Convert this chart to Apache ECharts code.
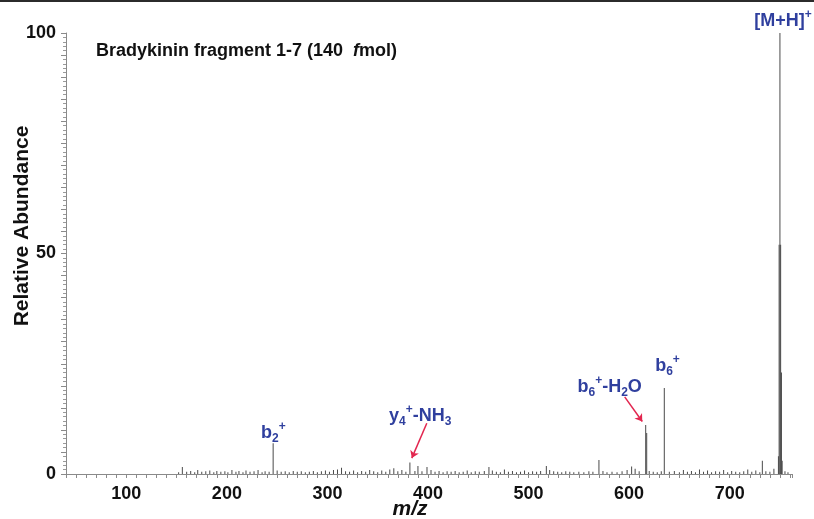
<!DOCTYPE html>
<html>
<head>
<meta charset="utf-8">
<script src="https://cdn.jsdelivr.net/npm/echarts@6/dist/echarts.min.js"></script>
<style>
  html, body { margin: 0; padding: 0; background: #fff; }
  #chart { width: 814px; height: 519px; }
</style>
</head>
<body>
<div id="chart"></div>
<script>
// labelled / prominent peaks: [m/z, relative abundance]
const majorPeaks = [
  [155.7, 1.6], [246, 7.0], [382, 2.6], [390, 1.8], [399, 1.6],
  [460.6, 1.6], [517.7, 1.8], [570, 3.2], [602.5, 1.7],
  [616.5, 11.1], [617.5, 9.3], [635, 19.5], [732.5, 3.0],
  [748.5, 4], [749.2, 52], [750, 100], [750.7, 52], [751.5, 23], [752.2, 3]
];
// baseline noise
const noisePeaks = [
  [152,0.4],[160,0.5],[164,0.7],[168,0.4],[171,0.9],[175,0.5],[179,0.6],[183,0.8],[187,0.4],[190,0.7],
  [194,0.5],[198,0.6],[201,0.4],[205,0.9],[209,0.5],[212,0.7],[216,0.4],[219,0.8],[223,0.5],[227,0.6],
  [231,0.9],[235,0.4],[238,0.6],[242,0.5],[250,0.8],[254,0.5],[258,0.6],[262,0.4],[266,0.7],[270,0.5],
  [274,0.6],[278,0.4],[282,0.5],[286,0.7],[290,0.4],[294,0.6],[298,0.8],[302,0.5],[306,0.9],[310,1.0],
  [314,1.4],[318,0.6],[322,0.5],[326,0.8],[330,0.4],[334,0.7],[338,0.5],[342,0.9],[346,0.6],[350,0.4],
  [354,0.8],[358,0.5],[362,1.0],[366,1.3],[370,0.6],[374,0.9],[378,0.5],[387,0.7],[394,0.6],[403,0.9],
  [407,0.5],[411,0.7],[415,0.4],[419,0.6],[423,0.5],[427,0.7],[431,0.4],[435,0.5],[439,0.8],[443,0.4],
  [447,0.6],[451,0.5],[456,0.7],[464,0.8],[468,0.5],[472,0.4],[476,1.0],[480,0.5],[484,0.7],[488,0.4],
  [492,0.5],[496,0.8],[500,0.4],[504,0.6],[508,0.5],[512,0.7],[521,0.9],[525,0.6],[529,0.5],[533,0.4],
  [537,0.6],[541,0.5],[545,0.4],[550,0.5],[555,0.4],[560,0.6],[564,0.5],[574,0.7],[578,0.4],[583,0.5],
  [588,0.4],[593,0.6],[598,0.9],[606,1.2],[610,0.6],[620,0.7],[624,0.5],[628,0.4],[632,0.6],[640,0.5],
  [645,0.7],[650,0.4],[654,0.9],[658,0.5],[662,0.7],[666,0.4],[670,1.0],[674,0.5],[678,0.8],[682,0.4],
  [686,0.6],[690,0.5],[694,0.9],[698,0.4],[702,0.7],[706,0.5],[710,0.4],[714,0.6],[718,1.0],[722,0.5],
  [726,0.8],[730,0.4],[736,0.6],[740,0.5],[744,1.2],[755,0.6],[758,0.4]
];
// peak annotations: rich text, anchor [m/z, abundance]
const annotations = [
  { text: '[M+H]{sup|+}', coord: [750, 100], offset: [3, -12] },
  { text: 'b{sub|6}{sup|+}', coord: [638.2, 24.5], offset: [0, 0] },
  { text: 'b{sub|6}{sup|+}-H{sub|2}O', coord: [580.7, 19.7], offset: [0, 0] },
  { text: 'y{sub|4}{sup|+}-NH{sub|3}', coord: [392.2, 13.2], offset: [0, 0] },
  { text: 'b{sub|2}{sup|+}', coord: [246.3, 9.3], offset: [0, 0] }
];
// arrows from label to peak
const arrows = [
  [[595.6, 17.5], [613.1, 11.9]],
  [[398.8, 11.5], [383.9, 3.6]]
];
const xTickLabels = [100, 200, 300, 400, 500, 600, 700];
const yTickLabels = [0, 50, 100];

const allPeaks = noisePeaks.concat(majorPeaks);
const FONT = "'Liberation Sans', Arial, sans-serif";
const BLUE = '#2f3f9e';

let chart = echarts.init(document.getElementById('chart'));
chart.setOption({
  animation: false,
  backgroundColor: '#fff',
  textStyle: { fontFamily: FONT },
  title: {
    text: 'Bradykinin fragment 1-7 (140  {i|f}mol)',
    left: 91,
    top: 37,
    textStyle: {
      fontFamily: FONT, fontSize: 18, fontWeight: 'bold', color: '#111',
      rich: { i: { fontFamily: FONT, fontSize: 18, fontWeight: 'bold', fontStyle: 'italic', color: '#111' } }
    }
  },
  grid: { left: 66, right: 22, top: 33, bottom: 45 },
  xAxis: {
    type: 'value',
    min: 40,
    max: 762,
    interval: 10,
    axisLine: { lineStyle: { color: '#8a8a8a', width: 1 } },
    axisTick: { length: 4, lineStyle: { color: '#8a8a8a' } },
    splitLine: { show: false },
    axisLabel: {
      margin: 11,
      fontFamily: FONT, fontSize: 18, fontWeight: 'bold', color: '#111',
      formatter: v => xTickLabels.indexOf(v) >= 0 ? String(v) : ''
    }
  },
  yAxis: {
    type: 'value',
    min: 0,
    max: 100,
    interval: 5,
    axisLine: { show: true, lineStyle: { color: '#8a8a8a', width: 1 } },
    axisTick: { length: 5, lineStyle: { color: '#8a8a8a' } },
    minorTick: { show: true, splitNumber: 5, length: 3, lineStyle: { color: '#9a9a9a' } },
    splitLine: { show: false },
    axisLabel: {
      margin: 10,
      fontFamily: FONT, fontSize: 18, fontWeight: 'bold', color: '#111',
      formatter: v => yTickLabels.indexOf(v) >= 0 ? String(v) : ''
    }
  },
  graphic: [
    { type: 'rect', left: 0, top: 0, shape: { width: 814, height: 2 }, style: { fill: '#2b2b2b' } },
    {
      type: 'text', x: 22, y: 226, rotation: Math.PI / 2,
      style: { text: 'Relative Abundance', font: "bold 21px 'Liberation Sans', Arial", fill: '#111', align: 'center', verticalAlign: 'middle' }
    },
    {
      type: 'text', x: 410, y: 509,
      style: { text: 'm/z', font: "italic bold 21px 'Liberation Sans', Arial", fill: '#111', align: 'center', verticalAlign: 'middle' }
    }
  ],
  series: [{
    type: 'bar',
    barWidth: 1,
    clip: false,
    itemStyle: { color: '#4a4a4a' },
    data: allPeaks,
    markPoint: {
      symbol: 'circle',
      symbolSize: 0,
      silent: true,
      label: {
        show: true,
        position: 'inside',
        color: BLUE,
        fontFamily: FONT, fontSize: 18, fontWeight: 'bold', lineHeight: 24,
        rich: {
          sup: { fontFamily: FONT, fontSize: 12, fontWeight: 'bold', color: BLUE, verticalAlign: 'top', lineHeight: 13 },
          sub: { fontFamily: FONT, fontSize: 12, fontWeight: 'bold', color: BLUE, verticalAlign: 'bottom', lineHeight: 13 }
        }
      },
      data: annotations.map(a => ({
        coord: a.coord,
        label: { formatter: a.text, offset: a.offset }
      }))
    },
    markLine: {
      silent: true,
      symbol: ['none', 'arrow'],
      symbolSize: 7,
      label: { show: false },
      lineStyle: { color: '#e2264f', width: 1.5, type: 'solid' },
      data: arrows.map(a => [{ coord: a[0] }, { coord: a[1] }])
    }
  }]
});
</script>
</body>
</html>
